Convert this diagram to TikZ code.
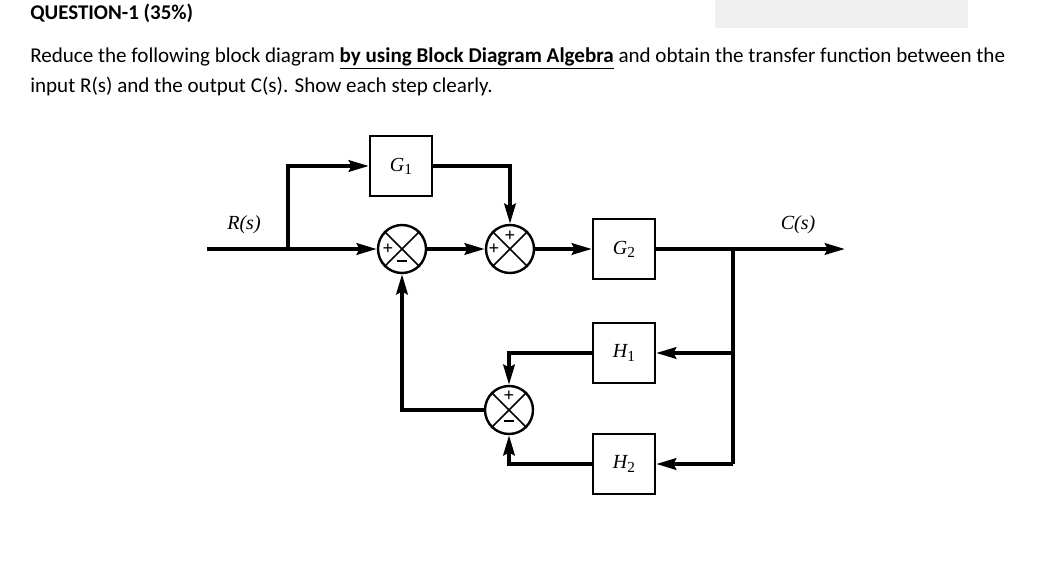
\documentclass[tikz,border=0pt]{standalone}
\usepackage{fontspec}
\setmainfont{Carlito}
\newfontfamily\tms{Liberation Serif}
\usetikzlibrary{arrows.meta,calc}
\definecolor{boxgray}{RGB}{240,240,240}
\tikzset{
  sig/.style={line width=3pt},
  arr/.style={-{Stealth[length=15pt,width=8.5pt,inset=2pt]}},
  blk/.style={draw,line width=1.6pt,minimum width=46.5pt,minimum height=45pt,inner sep=0pt,font=\tms\fontsize{15}{16}\selectfont\itshape},
  sumj/.style={draw,circle,line width=1.8pt,minimum size=36pt,inner sep=0pt},
  sgn/.style={inner sep=0pt,font=\tms\fontsize{14}{14}\selectfont\bfseries},
  lbl/.style={inner sep=0pt,font=\tms\fontsize{15}{16}\selectfont\itshape},
  txt/.style={inner sep=0pt,anchor=base west,font=\fontsize{15.8}{18}\selectfont}
}
\newcommand{\blab}[2]{#1\raisebox{-0.35ex}{\fontsize{11.5}{12}\selectfont\upshape #2}}
\newcommand{\minussign}{\rule[0.25em]{0.55em}{1.3pt}}
\begin{document}
\begin{tikzpicture}[x=0.75pt,y=-0.75pt]
\useasboundingbox (0,0) rectangle (1038,573);
\fill[boxgray] (715,0) rectangle (968,28);
\node[txt,font=\fontsize{15.7}{18}\selectfont\bfseries] (title) at (30,20) {QUESTION-1 (35\%)};
\node[txt] (l1) at (30,63) {Reduce the following block diagram \underline{\textbf{by using Block Diagram Algebra}} and obtain the transfer function between the};
\node[txt] (l2) at (30,93) {input R(s) and the output C(s). Show each step clearly.};
% nodes
\coordinate (rin) at (207,249);
\coordinate (b1) at (288,249);
\coordinate (b2) at (733,249);
\coordinate (cout) at (845,249);
\node[blk] (G1) at (401,166) {\blab{G}{1}};
\node[sumj] (s1) at (402,249) {};
\node[sumj] (s2) at (510,249) {};
\node[blk] (G2) at (624,249) {\blab{G}{2}};
\node[blk] (H1) at (624,353) {\blab{H}{1}};
\node[blk] (H2) at (624,464) {\blab{H}{2}};
\node[sumj] (s3) at (509,410) {};
\foreach \s in {s1,s2,s3}{
  \draw[line width=1.2pt] (\s.45) -- (\s.225);
  \draw[line width=1.2pt] (\s.135) -- (\s.315);
}
\node[sgn] at ($(s1)+(-14,0)$) {+};
\node[sgn] at ($(s1)+(0,14)$) {\minussign};
\node[sgn] at ($(s2)+(-16,0)$) {+};
\node[sgn] at ($(s2)+(0,-13)$) {+};
\node[sgn] at ($(s3)+(0,-14)$) {+};
\node[sgn] at ($(s3)+(0,13)$) {\minussign};
\node[lbl] (R) at (244,225) {R(s)};
\node[lbl] (C) at (798,225) {C(s)};
% connectors
\draw[sig,arr] (rin) -- (s1.west);
\draw[sig,arr] (b1) |- (G1.west);
\draw[sig,arr] (G1.east) -| (s2.north);
\draw[sig,arr] (s1.east) -- (s2.west);
\draw[sig,arr] (s2.east) -- (G2.west);
\draw[sig,arr] (G2.east) -- (cout);
\draw[sig] (b2) -- (b2|-H2);
\draw[sig,arr] (b2|-H1) -- (H1.east);
\draw[sig,arr] (b2|-H2) -- (H2.east);
\draw[sig,arr] (H1.west) -| (s3.north);
\draw[sig,arr] (H2.west) -| (s3.south);
\draw[sig,arr] (s3.west) -| (s1.south);
\end{tikzpicture}
\end{document}
